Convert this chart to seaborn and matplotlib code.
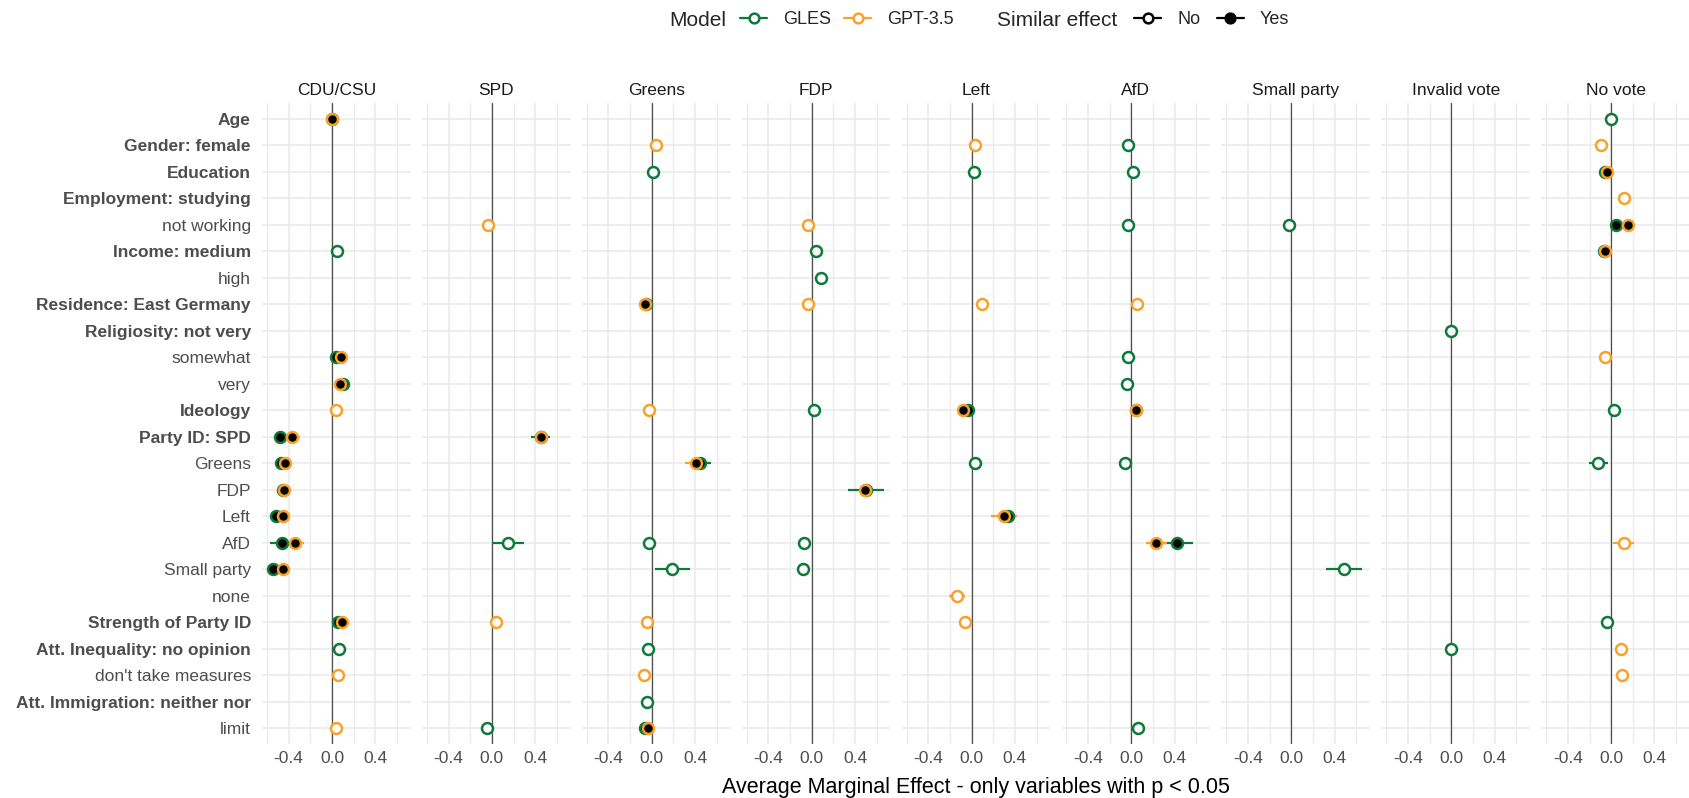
import pandas as pd
import matplotlib.pyplot as plt
from matplotlib.lines import Line2D
import seaborn as sns

parties = ["CDU/CSU", "SPD", "Greens", "FDP", "Left", "AfD",
           "Small party", "Invalid vote", "No vote"]

variables = [
    "Age", "Gender: female", "Education", "Employment: studying",
    "not working", "Income: medium", "high", "Residence: East Germany",
    "Religiosity: not very", "somewhat", "very", "Ideology",
    "Party ID: SPD", "Greens", "FDP", "Left", "AfD", "Small party", "none",
    "Strength of Party ID", "Att. Inequality: no opinion",
    "don't take measures", "Att. Immigration: neither nor", "limit",
]
bold_vars = [
    "Age", "Gender: female", "Education", "Employment: studying",
    "Income: medium", "Residence: East Germany", "Religiosity: not very",
    "Ideology", "Party ID: SPD", "Strength of Party ID",
    "Att. Inequality: no opinion", "Att. Immigration: neither nor",
]

models = ["GLES", "GPT-3.5"]
model_colors = {"GLES": "#0E7A3A", "GPT-3.5": "#F9A12B"}
fill_colors = {"No": "white", "Yes": "black"}

# (variable, model, AME, CI half width, similar effect)
cdu_csu = [
    ("Age", "GLES", 0.002, 0.01, "Yes"), ("Age", "GPT-3.5", 0.0, 0.01, "Yes"),
    ("Income: medium", "GLES", 0.046, 0.02, "No"),
    ("somewhat", "GLES", 0.034, 0.02, "Yes"), ("somewhat", "GPT-3.5", 0.08, 0.02, "Yes"),
    ("very", "GLES", 0.10, 0.02, "Yes"), ("very", "GPT-3.5", 0.074, 0.02, "Yes"),
    ("Ideology", "GPT-3.5", 0.04, 0.01, "No"),
    ("Party ID: SPD", "GLES", -0.483, 0.04, "Yes"), ("Party ID: SPD", "GPT-3.5", -0.366, 0.075, "Yes"),
    ("Greens", "GLES", -0.47, 0.03, "Yes"), ("Greens", "GPT-3.5", -0.437, 0.03, "Yes"),
    ("FDP", "GLES", -0.455, 0.03, "Yes"), ("FDP", "GPT-3.5", -0.446, 0.03, "Yes"),
    ("Left", "GLES", -0.514, 0.03, "Yes"), ("Left", "GPT-3.5", -0.455, 0.03, "Yes"),
    ("AfD", "GLES", -0.46, 0.11, "Yes"), ("AfD", "GPT-3.5", -0.345, 0.09, "Yes"),
    ("Small party", "GLES", -0.548, 0.035, "Yes"), ("Small party", "GPT-3.5", -0.455, 0.03, "Yes"),
    ("Strength of Party ID", "GLES", 0.052, 0.02, "Yes"), ("Strength of Party ID", "GPT-3.5", 0.089, 0.02, "Yes"),
    ("Att. Inequality: no opinion", "GLES", 0.062, 0.02, "No"),
    ("don't take measures", "GPT-3.5", 0.052, 0.02, "No"),
    ("limit", "GPT-3.5", 0.04, 0.02, "No"),
]
spd = [
    ("not working", "GPT-3.5", -0.037, 0.02, "No"),
    ("Party ID: SPD", "GLES", 0.45, 0.085, "Yes"), ("Party ID: SPD", "GPT-3.5", 0.455, 0.03, "Yes"),
    ("AfD", "GLES", 0.148, 0.15, "No"),
    ("Strength of Party ID", "GPT-3.5", 0.04, 0.02, "No"),
    ("limit", "GLES", -0.043, 0.02, "No"),
]
greens = [
    ("Gender: female", "GPT-3.5", 0.04, 0.01, "No"),
    ("Education", "GLES", 0.012, 0.01, "No"),
    ("Residence: East Germany", "GLES", -0.05, 0.02, "Yes"), ("Residence: East Germany", "GPT-3.5", -0.065, 0.02, "Yes"),
    ("Ideology", "GPT-3.5", -0.03, 0.01, "No"),
    ("Greens", "GLES", 0.446, 0.1, "Yes"), ("Greens", "GPT-3.5", 0.406, 0.1, "Yes"),
    ("AfD", "GLES", -0.03, 0.03, "No"),
    ("Small party", "GLES", 0.19, 0.16, "No"),
    ("Strength of Party ID", "GPT-3.5", -0.04, 0.02, "No"),
    ("Att. Inequality: no opinion", "GLES", -0.034, 0.02, "No"),
    ("don't take measures", "GPT-3.5", -0.068, 0.02, "No"),
    ("Att. Immigration: neither nor", "GLES", -0.04, 0.02, "No"),
    ("limit", "GLES", -0.06, 0.02, "Yes"), ("limit", "GPT-3.5", -0.037, 0.02, "Yes"),
]
fdp = [
    ("not working", "GPT-3.5", -0.03, 0.02, "No"),
    ("Income: medium", "GLES", 0.037, 0.02, "No"),
    ("high", "GLES", 0.086, 0.02, "No"),
    ("Residence: East Germany", "GPT-3.5", -0.03, 0.02, "No"),
    ("Ideology", "GLES", 0.018, 0.01, "No"),
    ("FDP", "GLES", 0.50, 0.165, "Yes"), ("FDP", "GPT-3.5", 0.495, 0.04, "Yes"),
    ("AfD", "GLES", -0.074, 0.03, "No"),
    ("Small party", "GLES", -0.077, 0.03, "No"),
]
left = [
    ("Gender: female", "GPT-3.5", 0.034, 0.01, "No"),
    ("Education", "GLES", 0.018, 0.01, "No"),
    ("Residence: East Germany", "GPT-3.5", 0.098, 0.02, "No"),
    ("Ideology", "GLES", -0.037, 0.01, "Yes"), ("Ideology", "GPT-3.5", -0.083, 0.01, "Yes"),
    ("Greens", "GLES", 0.03, 0.03, "No"),
    ("Left", "GLES", 0.332, 0.08, "Yes"), ("Left", "GPT-3.5", 0.30, 0.12, "Yes"),
    ("none", "GPT-3.5", -0.135, 0.077, "No"),
    ("Strength of Party ID", "GPT-3.5", -0.058, 0.02, "No"),
]
afd = [
    ("Gender: female", "GLES", -0.03, 0.01, "No"),
    ("Education", "GLES", 0.012, 0.01, "No"),
    ("not working", "GLES", -0.028, 0.02, "No"),
    ("Residence: East Germany", "GPT-3.5", 0.05, 0.02, "No"),
    ("somewhat", "GLES", -0.03, 0.02, "No"),
    ("very", "GLES", -0.043, 0.02, "No"),
    ("Ideology", "GLES", 0.04, 0.01, "Yes"), ("Ideology", "GPT-3.5", 0.046, 0.01, "Yes"),
    ("Greens", "GLES", -0.058, 0.03, "No"),
    ("AfD", "GLES", 0.425, 0.14, "Yes"), ("AfD", "GPT-3.5", 0.23, 0.1, "Yes"),
    ("limit", "GLES", 0.058, 0.02, "No"),
]
small_party = [
    ("not working", "GLES", -0.022, 0.02, "No"),
    ("Small party", "GLES", 0.486, 0.17, "No"),
]
invalid_vote = [
    ("Religiosity: not very", "GLES", -0.006, 0.01, "No"),
    ("Att. Inequality: no opinion", "GLES", -0.003, 0.01, "No"),
]
no_vote = [
    ("Age", "GLES", 0.0, 0.01, "No"),
    ("Gender: female", "GPT-3.5", -0.098, 0.01, "No"),
    ("Education", "GLES", -0.055, 0.01, "Yes"), ("Education", "GPT-3.5", -0.04, 0.01, "Yes"),
    ("Employment: studying", "GPT-3.5", 0.114, 0.02, "No"),
    ("not working", "GLES", 0.049, 0.02, "Yes"), ("not working", "GPT-3.5", 0.157, 0.02, "Yes"),
    ("Income: medium", "GLES", -0.07, 0.02, "Yes"), ("Income: medium", "GPT-3.5", -0.055, 0.02, "Yes"),
    ("somewhat", "GPT-3.5", -0.055, 0.02, "No"),
    ("Ideology", "GLES", 0.022, 0.01, "No"),
    ("Greens", "GLES", -0.117, 0.088, "No"),
    ("AfD", "GPT-3.5", 0.114, 0.1, "No"),
    ("Strength of Party ID", "GLES", -0.04, 0.02, "No"),
    ("Att. Inequality: no opinion", "GPT-3.5", 0.092, 0.02, "No"),
    ("don't take measures", "GPT-3.5", 0.098, 0.02, "No"),
]

party_data = [cdu_csu, spd, greens, fdp, left, afd, small_party, invalid_vote, no_vote]
rows = []
for party, entries in zip(parties, party_data):
    for var, model, ame, ci, sim in entries:
        rows.append((party, var, model, ame, ci, sim))
df = pd.DataFrame(rows, columns=["party", "variable", "model", "ame", "ci", "similar"])
df["variable"] = pd.Categorical(df["variable"], categories=variables)
df["ypos"] = df["variable"].cat.codes

sns.set_style("white")
plt.rcParams["font.family"] = ["Liberation Sans", "DejaVu Sans"]

grid_col = "#EBEBEB"
text_col = "#4D4D4D"


def draw_effects(data, **kws):
    ax = plt.gca()
    ax.axvline(0, color="#4D4D4D", lw=0.9, zorder=1)
    for model in models:
        sub = data[data["model"] == model]
        ax.errorbar(sub["ame"], sub["ypos"], xerr=sub["ci"], fmt="none",
                    ecolor=model_colors[model], elinewidth=1.6, capsize=0, zorder=2)
    for model in models:
        for sim in ["No", "Yes"]:
            sub = data[(data["model"] == model) & (data["similar"] == sim)]
            if len(sub):
                sns.scatterplot(data=sub, x="ame", y="ypos", ax=ax, s=62,
                                color=fill_colors[sim], edgecolor=model_colors[model],
                                linewidth=1.8, zorder=3, legend=False)


g = sns.FacetGrid(df, col="party", col_order=parties, sharex=True, sharey=True,
                  height=6, aspect=0.3, despine=False)
g.map_dataframe(draw_effects)
g.figure.set_size_inches(16.9, 7.98)
g.figure.subplots_adjust(left=262 / 1690, right=1.0, top=1 - 103 / 798,
                         bottom=1 - 744 / 798, wspace=0.0746)
g.set_titles("{col_name}", size=12.5, color="#1A1A1A", pad=6)
g.set_axis_labels("", "")

for ax in g.axes.flat:
    ax.set_xlim(-0.646, 0.728)
    ax.set_ylim(len(variables) - 0.4, -0.6)
    ax.set_xticks([-0.4, 0.0, 0.4])
    ax.set_xticklabels(["-0.4", "0.0", "0.4"])
    ax.set_xticks([-0.6, -0.2, 0.2, 0.6], minor=True)
    ax.set_yticks(range(len(variables)))
    ax.grid(which="major", color=grid_col, lw=1.2, zorder=0)
    ax.grid(which="minor", axis="x", color=grid_col, lw=0.9, zorder=0)
    ax.set_axisbelow(True)
    for s in ax.spines.values():
        s.set_visible(False)
    ax.tick_params(axis="both", which="both", length=0, labelsize=12.5,
                   labelcolor=text_col)
    ax.tick_params(axis="x", pad=5)
    ax.tick_params(axis="y", pad=8)

ax0 = g.axes.flat[0]
ax0.set_yticklabels(variables)
for lbl in ax0.get_yticklabels():
    if lbl.get_text() in bold_vars:
        lbl.set_fontweight("bold")

fig = g.figure
fig.text((262 + 1690) / 2 / 1690, 1 - 787 / 798,
         "Average Marginal Effect - only variables with p < 0.05",
         ha="center", va="center", fontsize=15.5, color="black")

# legends on top
leg_y = 1 - 20 / 798
model_handles = [
    Line2D([0], [0], color=model_colors[m], lw=1.6, marker="o", markersize=7,
           markerfacecolor="white", markeredgewidth=1.8) for m in models
]
sim_handles = [
    Line2D([0], [0], color="black", lw=1.6, marker="o", markersize=7,
           markerfacecolor=fill_colors[s], markeredgewidth=1.8) for s in ["No", "Yes"]
]
fig.text(669 / 1690, leg_y, "Model", ha="left", va="center", fontsize=15)
fig.text(997 / 1690, leg_y, "Similar effect", ha="left", va="center", fontsize=15)
leg1 = fig.legend(model_handles, models, loc="center left",
                  bbox_to_anchor=(740 / 1690, leg_y), ncol=2, frameon=False,
                  handlelength=1.5, handletextpad=0.9, columnspacing=0.7,
                  borderpad=0, borderaxespad=0, fontsize=13)
leg2 = fig.legend(sim_handles, ["No", "Yes"], loc="center left",
                  bbox_to_anchor=(1134 / 1690, leg_y), ncol=2, frameon=False,
                  handlelength=1.5, handletextpad=0.9, columnspacing=0.9,
                  borderpad=0, borderaxespad=0, fontsize=13)

fig.savefig("out.png", dpi=100)
